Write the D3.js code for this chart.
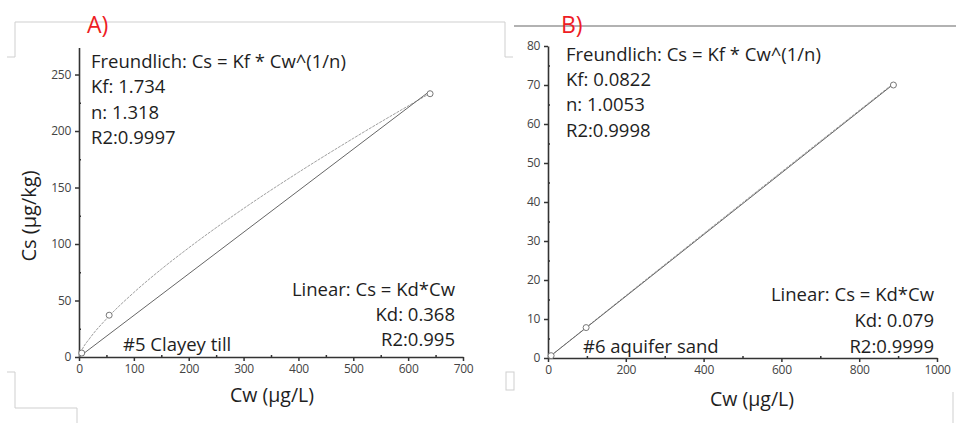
<!DOCTYPE html>
<html><head><meta charset="utf-8">
<script src="https://cdn.jsdelivr.net/npm/d3@7"></script>
<style>body{margin:0;background:#fff}svg{display:block}</style>
</head><body>
<svg id="c" width="956" height="423"></svg>
<script>
// ---- data ----
const ptsA_cw = [5, 55, 640];
const ptsA_cs = [3.5, 37, 233];
const freundA_cw = [0, 5, 20, 50, 100, 150, 200, 300, 400, 500, 640];
const freundA_cs = [0, 5.9, 16.8, 33.7, 57.1, 77.7, 96.6, 131.4, 163.4, 193.5, 233.4];
const linA_cw = [0, 640];
const linA_cs = [0, 235.5];
const ptsB_cw = [8, 98, 888];
const ptsB_cs = [0.6, 7.8, 70];
const freundB_cw = [0, 100, 500, 888];
const freundB_cs = [0, 8.0, 39.8, 70.4];
const linB_cw = [0, 888];
const linB_cs = [0, 70.2];
const ticksAx = [0,100,200,300,400,500,600,700];
const ticksAy = [0,50,100,150,200,250];
const ticksBx = [0,200,400,600,800,1000];
const ticksBy = [0,10,20,30,40,50,60,70,80];
const textA = ["Freundlich: Cs = Kf * Cw^(1/n)", "Kf: 1.734", "n: 1.318", "R2:0.9997"];
const linTextA = ["Linear: Cs = Kd*Cw", "Kd: 0.368", "R2:0.995"];
const textB = ["Freundlich: Cs = Kf * Cw^(1/n)", "Kf: 0.0822", "n: 1.0053", "R2:0.9998"];
const linTextB = ["Linear: Cs = Kd*Cw", "Kd: 0.079", "R2:0.9999"];

const svg = d3.select("#c");
const FONT = "'Open Sans', sans-serif";

// decorative frame fragments
const frame = svg.append("g").attr("fill","none").attr("stroke","#cfcfcf").attr("stroke-width",1);
frame.append("path").attr("d","M7,57H15V22H505V57H513");
frame.append("path").attr("d","M7,372H15V408H77V423");
frame.append("rect").attr("x",506).attr("y",372).attr("width",8).attr("height",18);
frame.append("path").attr("d","M953,392V423");
svg.append("path").attr("d","M514,26H956").attr("stroke","#999").attr("stroke-width",1.5).attr("fill","none");

function panel(cfg){
  const g = svg.append("g");
  const x = d3.scaleLinear().domain(cfg.xd).range(cfg.xr);
  const y = d3.scaleLinear().domain(cfg.yd).range(cfg.yr);
  // minor ticks
  const xa = d3.axisBottom(x).tickValues(cfg.xminor).tickSize(-2).tickFormat("");
  g.append("g").attr("transform",`translate(0,${cfg.yr[0]})`).call(xa)
    .call(s=>s.select(".domain").remove()).selectAll("line").attr("stroke","#333").attr("stroke-width",1.5);
  const ya = d3.axisLeft(y).tickValues(cfg.yminor).tickSize(-2).tickFormat("");
  g.append("g").attr("transform",`translate(${cfg.xr[0]},0)`).call(ya)
    .call(s=>s.select(".domain").remove()).selectAll("line").attr("stroke","#333").attr("stroke-width",1.5);
  // major axes
  const xAxis = d3.axisBottom(x).tickValues(cfg.xt).tickSize(4).tickSizeOuter(0).tickPadding(3).tickFormat(d3.format("d"));
  const gx = g.append("g").attr("transform",`translate(0,${cfg.yr[0]})`).call(xAxis);
  const yAxis = d3.axisLeft(y).tickValues(cfg.yt).tickSize(4).tickSizeOuter(0).tickPadding(4).tickFormat(d3.format("d"));
  const gy = g.append("g").attr("transform",`translate(${cfg.xr[0]},0)`).call(yAxis);
  [gx,gy].forEach(a=>{
    a.select(".domain").attr("stroke","#333").attr("stroke-width",1.6);
    a.selectAll(".tick line").attr("stroke","#333").attr("stroke-width",1.5);
    a.selectAll(".tick text").attr("fill","#444").attr("font-family",FONT).attr("font-size",12)
      .attr("letter-spacing",-0.3);
  });
  // lines
  const line = d3.line().x(d=>x(d[0])).y(d=>y(d[1]));
  g.append("path").datum(d3.zip(cfg.fcw,cfg.fcs)).attr("d",line.curve(d3.curveMonotoneX))
    .attr("fill","none").attr("stroke","#a0a0a0").attr("stroke-width",1).attr("stroke-dasharray","3,1");
  g.append("path").datum(d3.zip(cfg.lcw,cfg.lcs)).attr("d",d3.line().x(d=>x(d[0])).y(d=>y(d[1])))
    .attr("fill","none").attr("stroke","#666").attr("stroke-width",1);
  g.selectAll("circle").data(d3.zip(cfg.pcw,cfg.pcs)).join("circle")
    .attr("cx",d=>x(d[0])).attr("cy",d=>y(d[1])).attr("r",3)
    .attr("fill","#fff").attr("stroke","#777").attr("stroke-width",1);
  // annotations
  const ta = g.append("g").attr("font-family",FONT).attr("font-size",cfg.fs).attr("fill","#1e1e1e");
  cfg.text.forEach((t,i)=>ta.append("text").attr("x",cfg.tx).attr("y",cfg.ty[i]).text(t));
  cfg.lin.forEach((t,i)=>ta.append("text").attr("x",cfg.lx).attr("y",cfg.ly[i]).attr("text-anchor","end").text(t));
  ta.append("text").attr("x",cfg.sx).attr("y",cfg.sy).text(cfg.sample);
  ta.append("text").attr("x",cfg.xlx).attr("y",cfg.xly).attr("text-anchor","middle").attr("font-size",19.5).text("Cw (µg/L)");
  g.append("text").attr("x",cfg.labx).attr("y",33).attr("font-family",FONT).attr("font-size",23)
    .attr("fill","#ee1c25").text(cfg.label);
  return {g,x,y};
}

const A = panel({xd:[0,700],xr:[79,463],yd:[0,274],yr:[357,47.4],
  xt:ticksAx, yt:ticksAy, xminor:d3.range(50,700,100), yminor:d3.range(25,274,50),
  fcw:freundA_cw,fcs:freundA_cs,lcw:linA_cw,lcs:linA_cs,pcw:ptsA_cw,pcs:ptsA_cs,
  text:textA, lin:linTextA, tx:91, ty:[68,93,119,144], lx:455, ly:[296,321,346],
  sample:"#5 Clayey till", sx:123, sy:351, fs:18.5, xlx:272, xly:402, label:"A)", labx:87});
A.g.append("text").attr("transform","translate(36,216) rotate(-90)").attr("text-anchor","middle")
  .attr("font-family",FONT).attr("font-size",20).attr("fill","#1e1e1e").text("Cs (µg/kg)");

const B = panel({xd:[0,1000],xr:[548,937],yd:[0,80],yr:[358,46],
  xt:ticksBx, yt:ticksBy, xminor:d3.range(100,1000,200), yminor:d3.range(5,80,10),
  fcw:freundB_cw,fcs:freundB_cs,lcw:linB_cw,lcs:linB_cs,pcw:ptsB_cw,pcs:ptsB_cs,
  text:textB, lin:linTextB, tx:566, ty:[61,86,111,137], lx:934, ly:[301,327,353],
  sample:"#6 aquifer sand", sx:583, sy:353, fs:18.5, xlx:752, xly:406, label:"B)", labx:561});
</script>
</body></html>
